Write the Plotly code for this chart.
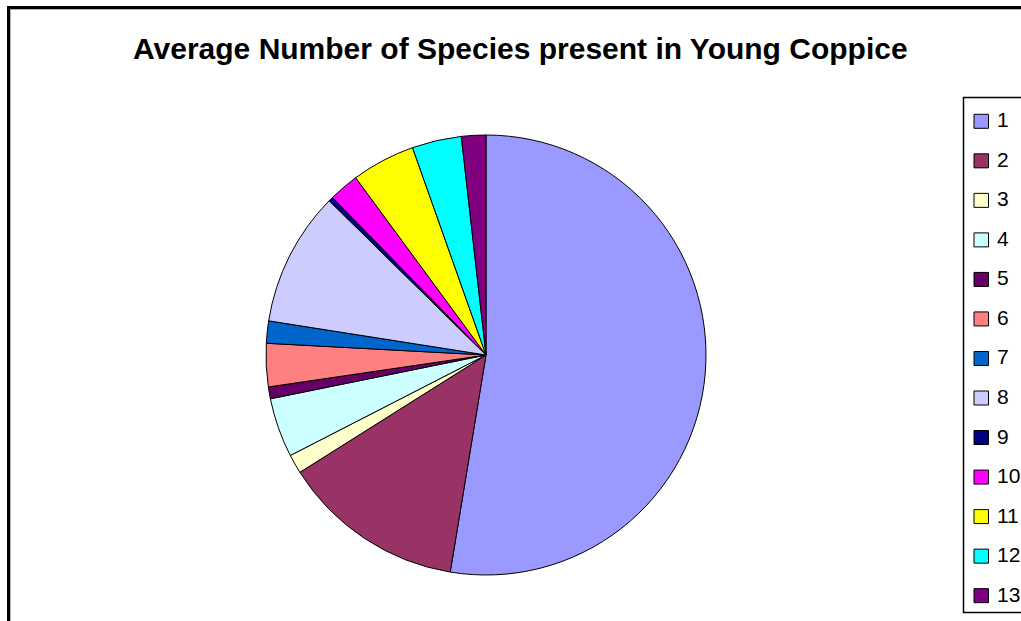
import plotly.graph_objects as go

# Average number of species per category in young coppice
categories = ["1", "2", "3", "4", "5", "6", "7", "8", "9", "10", "11", "12", "13"]
values = [52.6, 13.45, 1.4, 4.36, 0.87, 3.17, 1.63, 9.89, 0.34, 2.2, 4.67, 3.63, 1.79]
colors = ["#9999FF", "#993366", "#FFFFCC", "#CCFFFF", "#660066", "#FF8080", "#0066CC",
          "#CCCCFF", "#000080", "#FF00FF", "#FFFF00", "#00FFFF", "#800080"]

W, H = 1021, 621
FONT = "Liberation Sans, Arial, sans-serif"


def px_x(x):
    return x / W


def px_y(y):
    return 1 - y / H


fig = go.Figure(
    go.Pie(
        labels=categories,
        values=values,
        sort=False,
        direction="clockwise",
        rotation=0,
        marker=dict(colors=colors, line=dict(color="#000000", width=1)),
        textinfo="none",
        hoverinfo="label+value+percent",
        showlegend=False,
        domain=dict(x=[px_x(266), px_x(706)], y=[px_y(575), px_y(135)]),
    )
)

shapes = [
    # chart area frame (right and bottom edges fall outside the page)
    dict(type="rect", xref="paper", yref="paper",
         x0=px_x(8.5), y0=px_y(640), x1=px_x(1040), y1=px_y(7.5),
         line=dict(color="#000000", width=3), fillcolor="rgba(0,0,0,0)", layer="above"),
    dict(type="line", xref="paper", yref="paper",
         x0=px_x(10.5), y0=px_y(640), x1=px_x(10.5), y1=px_y(9.5),
         line=dict(color="#b0b0b0", width=1)),
    dict(type="line", xref="paper", yref="paper",
         x0=px_x(10.5), y0=px_y(9.5), x1=px_x(1040), y1=px_y(9.5),
         line=dict(color="#b0b0b0", width=1)),
    # legend box
    dict(type="rect", xref="paper", yref="paper",
         x0=px_x(963.5), y0=px_y(612.5), x1=px_x(1040), y1=px_y(97.5),
         line=dict(color="#000000", width=1.5), fillcolor="#ffffff"),
]

annotations = [
    dict(text="<b>Average Number of Species present in Young Coppice</b>",
         xref="paper", yref="paper", x=px_x(520.5), y=px_y(48),
         xanchor="center", yanchor="middle", showarrow=False,
         font=dict(family=FONT, size=30, color="#000000")),
]

# legend entries
row0, row_gap = 121.3, 39.53
for i, (lab, col) in enumerate(zip(categories, colors)):
    cy = row0 + row_gap * i
    shapes.append(dict(type="rect", xref="paper", yref="paper",
                       x0=px_x(974), x1=px_x(988.5), y0=px_y(cy + 7), y1=px_y(cy - 7),
                       line=dict(color="#000000", width=1), fillcolor=col))
    annotations.append(dict(text=lab, xref="paper", yref="paper",
                            x=px_x(994.5), y=px_y(cy - 1.5),
                            xanchor="left", yanchor="middle", showarrow=False,
                            font=dict(family=FONT, size=21, color="#000000")))

fig.update_layout(
    width=W, height=H,
    margin=dict(l=0, r=0, t=0, b=0),
    paper_bgcolor="#ffffff",
    plot_bgcolor="#ffffff",
    shapes=shapes,
    annotations=annotations,
    showlegend=False,
)

fig.write_html("out.html")
